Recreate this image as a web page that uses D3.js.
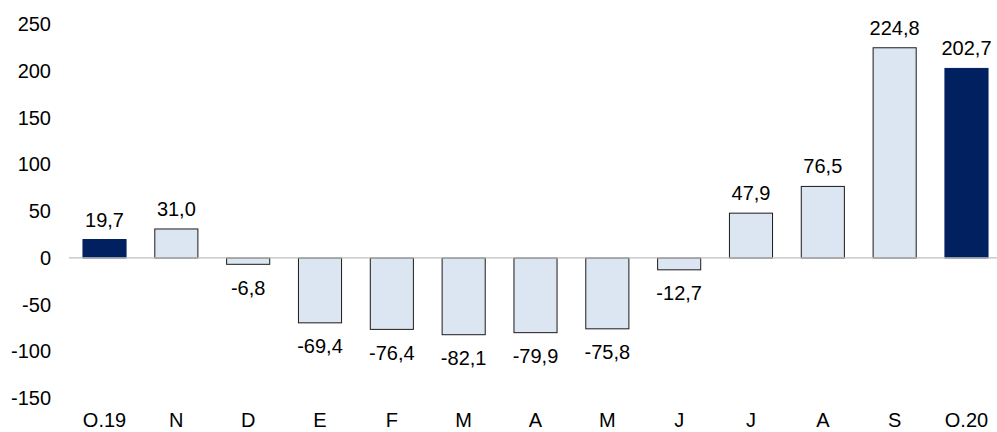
<!DOCTYPE html>
<html>
<head>
<meta charset="utf-8">
<script src="https://cdn.jsdelivr.net/npm/d3@7"></script>
<style>
  body { margin: 0; background: #fff; }
  svg text { font-family: "Liberation Sans", Arial, sans-serif; fill: #000; }
</style>
</head>
<body>
<div id="chart"></div>
<script>
const categories = ["O.19", "N", "D", "E", "F", "M", "A", "M", "J", "J", "A", "S", "O.20"];
const values = [19.7, 31.0, -6.8, -69.4, -76.4, -82.1, -79.9, -75.8, -12.7, 47.9, 76.5, 224.8, 202.7];
const highlighted = [0, 12];
const yTicks = [-150, -100, -50, 0, 50, 100, 150, 200, 250];

const width = 997, height = 432;
const data = categories.map((c, i) => ({ key: i, cat: c, value: values[i] }));

const svg = d3.select("#chart").append("svg")
  .attr("width", width)
  .attr("height", height);

const x = d3.scaleBand()
  .domain(data.map(d => d.key))
  .range([68.6, 1002.4])
  .paddingInner(0.4)
  .paddingOuter(0.2);

const y = d3.scaleLinear()
  .domain([-150, 250])
  .range([398.2, 24.2]);

// hyphen minus and decimal comma, like the source
const fmt = v => d3.format(".1f")(v).replace("\u2212", "-").replace(".", ",");

// y axis labels
svg.append("g")
  .selectAll("text")
  .data(yTicks)
  .enter()
  .append("text")
  .attr("x", 51)
  .attr("y", d => y(d))
  .attr("dy", "0.35em")
  .attr("text-anchor", "end")
  .style("font-size", "20px")
  .text(d => String(d));

// bars
svg.append("g")
  .selectAll("rect")
  .data(data)
  .enter()
  .append("rect")
  .attr("x", d => x(d.key))
  .attr("width", x.bandwidth())
  .attr("y", d => y(Math.max(0, d.value)))
  .attr("height", d => Math.abs(y(d.value) - y(0)))
  .attr("fill", d => highlighted.includes(d.key) ? "#002060" : "#dce6f2")
  .attr("stroke", d => highlighted.includes(d.key) ? "#002060" : "#1a1a1a")
  .attr("stroke-width", 1);

// zero line
svg.append("line")
  .attr("x1", 69)
  .attr("x2", width)
  .attr("y1", y(0))
  .attr("y2", y(0))
  .attr("stroke", "#bfbfbf")
  .attr("stroke-width", 1.2);

// value labels
svg.append("g")
  .selectAll("text")
  .data(data)
  .enter()
  .append("text")
  .attr("x", d => x(d.key) + x.bandwidth() / 2)
  .attr("y", d => d.value >= 0 ? y(d.value) - 13 : y(d.value) + 30.5)
  .attr("text-anchor", "middle")
  .style("font-size", "20px")
  .text(d => fmt(d.value));

// category labels
svg.append("g")
  .selectAll("text")
  .data(data)
  .enter()
  .append("text")
  .attr("x", d => x(d.key) + x.bandwidth() / 2)
  .attr("y", 427)
  .attr("text-anchor", "middle")
  .style("font-size", "20px")
  .text(d => d.cat);
</script>
</body>
</html>
